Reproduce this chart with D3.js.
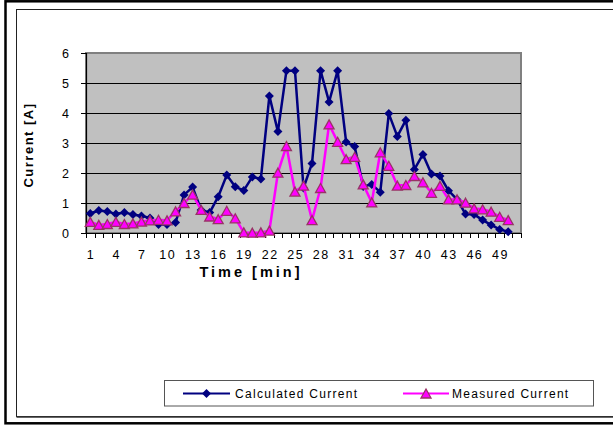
<!DOCTYPE html>
<html><head><meta charset="utf-8">
<script src="https://cdn.jsdelivr.net/npm/d3@7"></script>
<style>
body{margin:0;background:#fff}
svg{display:block}
text{font-family:"Liberation Sans",Arial,sans-serif}
</style>
</head><body>
<svg id="c" width="613" height="425"></svg>
<script>
const minutes = [1,2,3,4,5,6,7,8,9,10,11,12,13,14,15,16,17,18,19,20,21,22,23,24,25,26,27,28,29,30,31,32,33,34,35,36,37,38,39,40,41,42,43,44,45,46,47,48,49,50,51];
const calculated = [0.65,0.75,0.72,0.63,0.68,0.62,0.57,0.5,0.28,0.28,0.35,1.27,1.53,0.77,0.68,1.21,1.93,1.54,1.42,1.87,1.8,4.57,3.38,5.41,5.41,1.5,2.32,5.41,4.37,5.41,3.03,2.88,1.55,1.62,1.36,3.98,3.22,3.76,2.12,2.62,1.97,1.9,1.41,1.12,0.63,0.62,0.43,0.27,0.12,0.04];
const measured = [0.37,0.27,0.3,0.37,0.3,0.32,0.38,0.42,0.44,0.42,0.72,1.0,1.28,0.77,0.55,0.46,0.74,0.49,0.02,0.01,0.02,0.08,2.01,2.9,1.38,1.58,0.43,1.5,3.62,3.04,2.46,2.54,1.62,1.02,2.69,2.24,1.58,1.6,1.9,1.69,1.34,1.57,1.12,1.12,1.01,0.82,0.79,0.71,0.54,0.43];
const yTicks = [0,1,2,3,4,5,6];
const xTickLabels = [1,4,7,10,13,16,19,22,25,28,31,34,37,40,43,46,49];
const seriesNames = ["Calculated Current","Measured Current"];
const xTitle = "Time [min]";
const yTitle = "Current [A]";

const svg = d3.select("#c");
const L = 86, R = 521, T = 53, B = 233;
const x = d3.scaleBand().domain(minutes).range([L, R]).padding(0);
const y = d3.scaleLinear().domain([0, 6]).range([B, T]);
const cx = m => x(m) + x.bandwidth() / 2;

// chart borders
svg.append("rect").attr("x",5.5).attr("y",1.3).attr("width",700).attr("height",422)
  .attr("fill","none").attr("stroke","#000").attr("stroke-width",2.5);
svg.append("rect").attr("x",16.5).attr("y",9.5).attr("width",700).attr("height",407)
  .attr("fill","none").attr("stroke","#222").attr("stroke-width",1);
svg.append("line").attr("x1",16.5).attr("x2",700).attr("y1",417).attr("y2",417)
  .attr("stroke","#333").attr("stroke-width",1.5);

// plot area
svg.append("rect").attr("x",L).attr("y",T).attr("width",R-L).attr("height",B-T)
  .attr("fill","#c0c0c0").attr("stroke","#808080").attr("stroke-width",2);

svg.append("g").selectAll("line").data(yTicks.filter(v => v > 0 && v < 6)).join("line")
  .attr("x1",L).attr("x2",R).attr("y1",d => Math.round(y(d))+0.5).attr("y2",d => Math.round(y(d))+0.5)
  .attr("stroke","#000").attr("stroke-width",1);

// y axis
const ya = svg.append("g").attr("transform",`translate(${L},0)`)
  .call(d3.axisLeft(y).tickValues(yTicks).tickSize(5).tickPadding(12).tickFormat(d3.format("d")));
ya.select(".domain").attr("stroke","#000").attr("stroke-width",1.2);
ya.selectAll("text").attr("font-size",12.5).attr("fill","#000");

// x axis
const xa = svg.append("g").attr("transform",`translate(0,${B})`)
  .call(d3.axisBottom(x).tickValues(xTickLabels).tickSize(0).tickPadding(17));
xa.select(".domain").attr("stroke","#000").attr("stroke-width",1.2);
xa.selectAll("text").attr("font-size",12.5).attr("fill","#000").attr("letter-spacing","1.5px")
  .attr("dx","0.75px");
const bounds = minutes.map(m => x(m)).concat([R]);
svg.append("g").selectAll("line").data(bounds).join("line")
  .attr("x1",d => Math.round(d)+0.5).attr("x2",d => Math.round(d)+0.5)
  .attr("y1",B).attr("y2",B+5).attr("stroke","#000").attr("stroke-width",1);

// titles
svg.append("text").attr("x",251).attr("y",277).attr("text-anchor","middle")
  .attr("font-size",14.5).attr("font-weight","bold").attr("letter-spacing","3px").text(xTitle);
svg.append("text").attr("transform","translate(33,145) rotate(-90)").attr("text-anchor","middle")
  .attr("font-size",13).attr("font-weight","bold").attr("letter-spacing","1.5px").text(yTitle);

// markers
const diamondType = {draw(ctx, s){ const r = Math.sqrt(s)/2; ctx.moveTo(0,-r); ctx.lineTo(r,0); ctx.lineTo(0,r); ctx.lineTo(-r,0); ctx.closePath(); }};
const triType = {draw(ctx, s){ const w = Math.sqrt(s)/2; ctx.moveTo(0,-w*0.9); ctx.lineTo(w,w*0.9); ctx.lineTo(-w,w*0.9); ctx.closePath(); }};
const diamond = d3.symbol().type(diamondType).size(81);
const tri = d3.symbol().type(triType).size(100);

const calcData = calculated.map((v,i) => ({m: minutes[i], v}));
const measData = measured.map((v,i) => ({m: minutes[i], v}));
const line = d3.line().x(d => cx(d.m)).y(d => y(d.v));

svg.append("path").datum(calcData).attr("d",line).attr("fill","none")
  .attr("stroke","#000080").attr("stroke-width",2.5).attr("stroke-linejoin","round");
svg.append("g").selectAll("path").data(calcData).join("path")
  .attr("transform",d => `translate(${cx(d.m)},${y(d.v)})`).attr("d",diamond).attr("fill","#000080");

svg.append("path").datum(measData).attr("d",line).attr("fill","none")
  .attr("stroke","#ff00ff").attr("stroke-width",2.5).attr("stroke-linejoin","round");
svg.append("g").selectAll("path").data(measData).join("path")
  .attr("transform",d => `translate(${cx(d.m)},${y(d.v)})`).attr("d",tri)
  .attr("fill","#ff00ff").attr("stroke","#993366").attr("stroke-width",1.3);

// legend
const lg = svg.append("g");
lg.append("rect").attr("x",164.5).attr("y",380.5).attr("width",429).attr("height",25.5)
  .attr("fill","#fff").attr("stroke","#555").attr("stroke-width",1);
const items = [
  {name: seriesNames[0], x1: 183, x2: 230, color: "#000080", sym: diamond, fill: "#000080", stroke: "none", tx: 235},
  {name: seriesNames[1], x1: 403, x2: 449, color: "#ff00ff", sym: tri, fill: "#ff00ff", stroke: "#993366", tx: 452}
];
items.forEach(it => {
  lg.append("line").attr("x1",it.x1).attr("x2",it.x2).attr("y1",393.5).attr("y2",393.5)
    .attr("stroke",it.color).attr("stroke-width",2);
  lg.append("path").attr("transform",`translate(${(it.x1+it.x2)/2},393.5)`).attr("d",it.sym)
    .attr("fill",it.fill).attr("stroke",it.stroke).attr("stroke-width",1.3);
  lg.append("text").attr("x",it.tx).attr("y",397.5).attr("font-size",12)
    .attr("letter-spacing","1.3px").text(it.name);
});
</script>
</body></html>
